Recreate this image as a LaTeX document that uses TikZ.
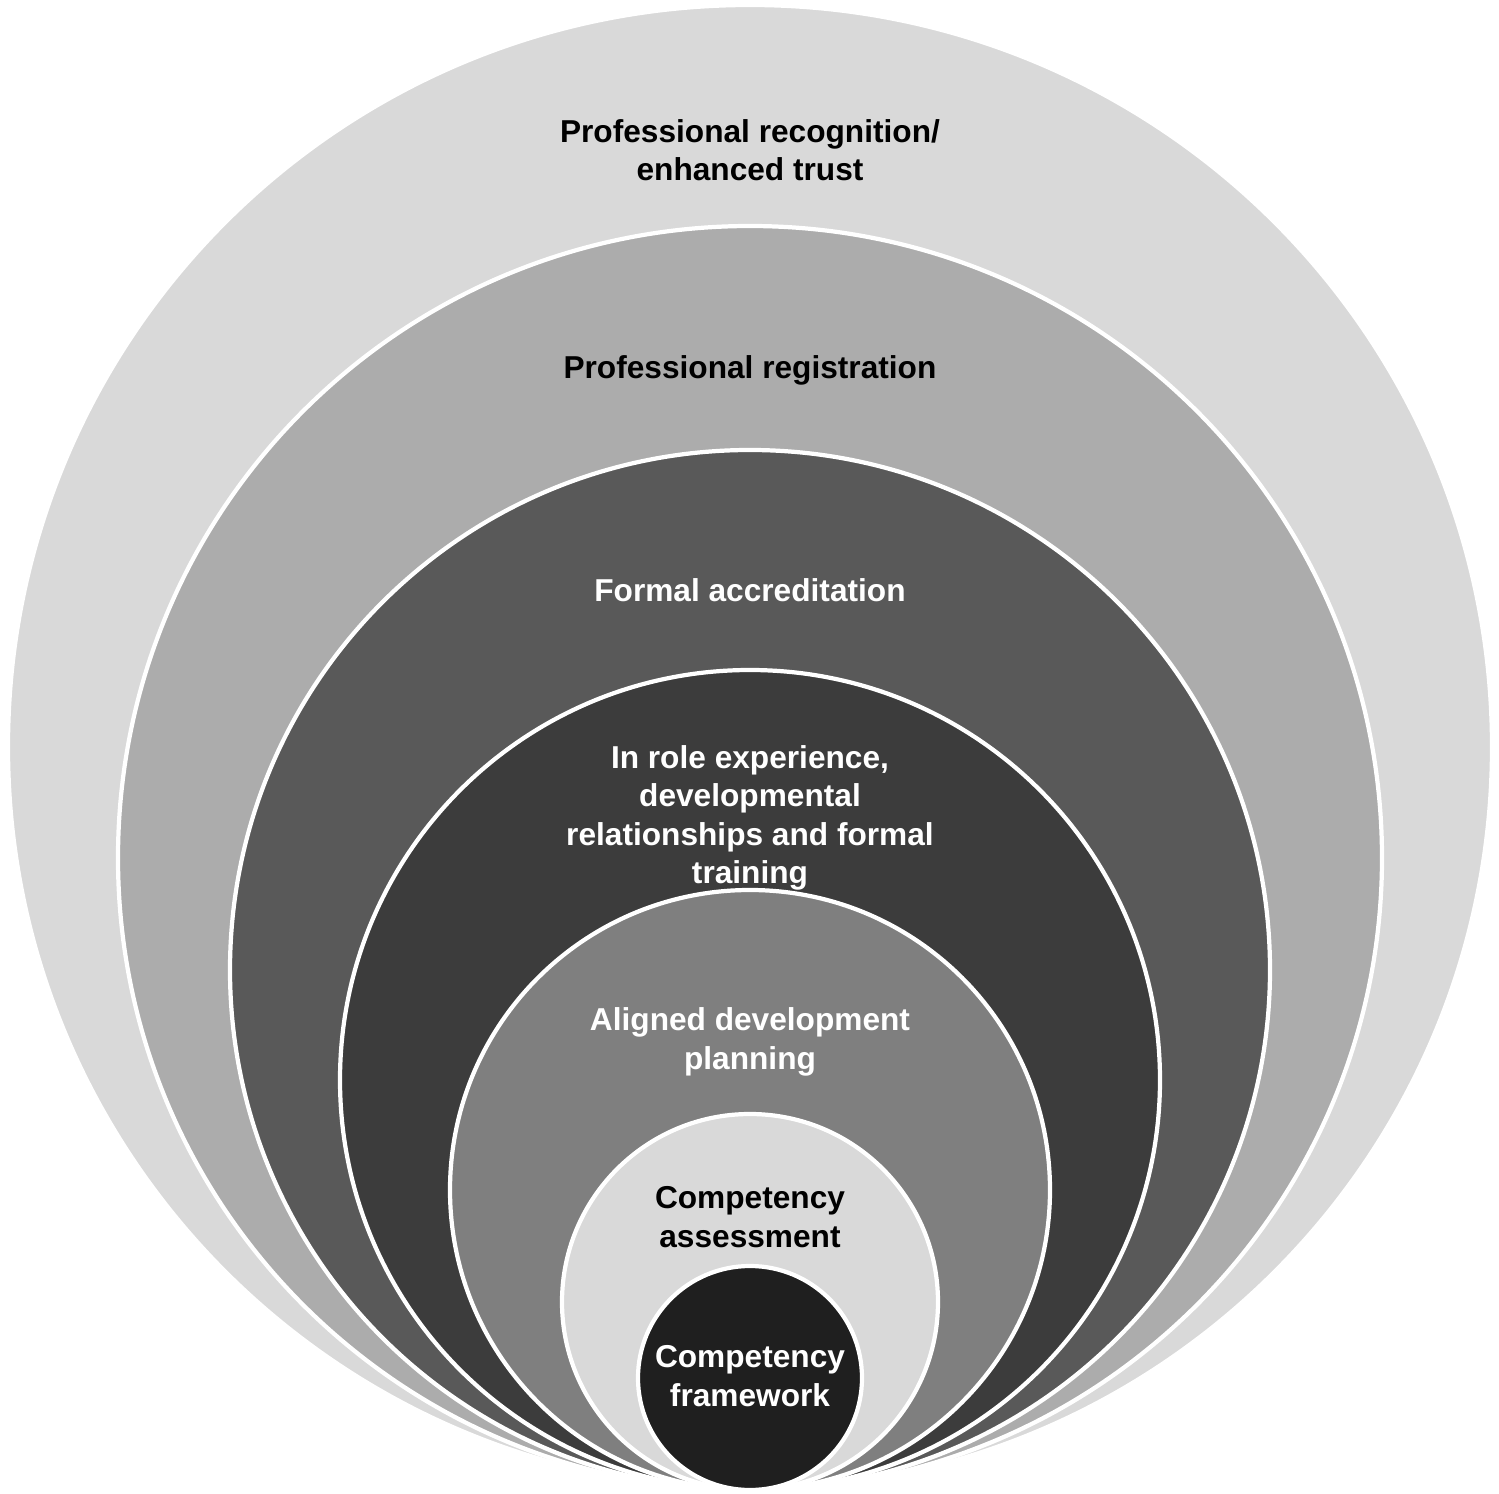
\documentclass[tikz,border=0pt]{standalone}
\usepackage{fontspec}
\setmainfont{Liberation Sans}
\definecolor{ringA}{HTML}{D9D9D9}
\definecolor{ringB}{HTML}{ACACAC}
\definecolor{ringC}{HTML}{595959}
\definecolor{ringD}{HTML}{3C3C3C}
\definecolor{ringE}{HTML}{7F7F7F}
\definecolor{ringF}{HTML}{D9D9D9}
\definecolor{ringG}{HTML}{1F1F1F}
\tikzset{
	ring/.style={draw=white, line width=1.2pt},
	lbl/.style={font=\fontsize{9}{10.9}\selectfont\bfseries, align=center},
}
\begin{document}
\begin{tikzpicture}[x=0.01cm,y=-0.01cm]
	\useasboundingbox (0,0) rectangle (1499,1494);
	\draw[ring, fill=ringA] (750,747) circle (742);
	\draw[ring, fill=ringB] (750,858) circle (632);
	\draw[ring, fill=ringC] (750,970) circle (520);
	\draw[ring, fill=ringD] (750,1080) circle (410);
	\draw[ring, fill=ringE] (750,1190) circle (300);
	\draw[ring, fill=ringF] (750,1302) circle (188);
	\draw[ring, fill=ringG] (750,1378) circle (112);
	\node[lbl, text=black] (recog) at (750,150) {Professional recognition/\\enhanced trust};
	\node[lbl, text=black] (regis) at (750,370) {Professional registration};
	\node[lbl, text=white] (accred) at (750,590) {Formal accreditation};
	\node[lbl, text=white] (exper) at (750,818) {In role experience,\\developmental\\relationships and formal\\training};
	\node[lbl, text=white] (plan) at (750,1042) {Aligned development\\planning};
	\node[lbl, text=black] (assess) at (750,1217) {Competency\\assessment};
	\node[lbl, text=white] (frame) at (750,1376) {Competency\\framework};
\end{tikzpicture}
\end{document}
